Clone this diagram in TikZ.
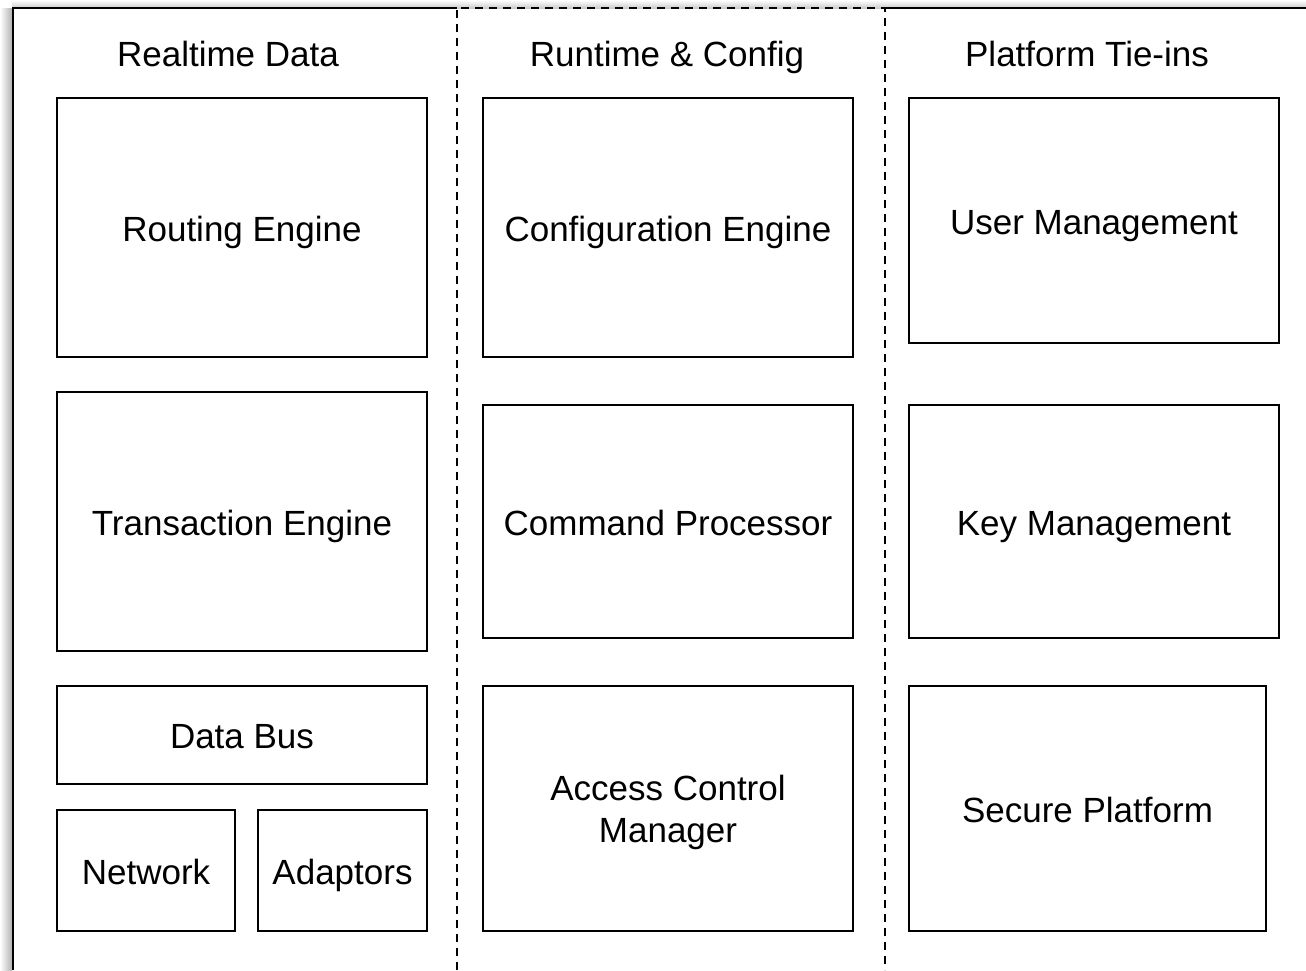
\documentclass[tikz,border=0pt]{standalone}
\usepackage{fontspec}
\setmainfont{Liberation Sans}
\tikzset{
  box/.style={draw, line width=1pt, minimum width=185pt, align=center, inner sep=0pt},
  oneline/.style={text height=17.5pt, text depth=3.7pt},
  header/.style={inner sep=0pt, oneline},
  divider/.style={line width=1pt, dash pattern=on 4pt off 3pt}
}
\begin{document}
\begin{tikzpicture}[x=0.5pt, y=-0.5pt, font=\fontsize{17.5}{21}\selectfont]
\useasboundingbox (0,0) rectangle (1306,970);
% frame with shadow
\shade[left color=white, right color=gray!60] (0,8) rectangle (12,970);
\shade[top color=white, bottom color=gray!40] (12,0) rectangle (1306,8);
\draw[line width=1pt] (12.5,970) -- (12.5,8) -- (457,8);
\draw[line width=1pt] (885,8) -- (1306,8);
% middle column
\draw[divider] (457,970) -- (457,8) -- (885,8) -- (885,970);
% column titles
\node[header] (hdata) at (228,53) {Realtime Data};
\node[header] (hrun) at (667,53) {Runtime \& Config};
\node[header] (hplat) at (1087,53) {Platform Tie-ins};
% realtime data
\node[box, oneline, minimum height=129.5pt] (routing) at (242,227.5) {Routing Engine};
\node[box, oneline, minimum height=129.5pt] (trans) at (242,521.5) {Transaction Engine};
\node[box, oneline, minimum height=49pt] (bus) at (242,735) {Data Bus};
\node[box, oneline, minimum width=89pt, minimum height=60.5pt] (net) at (146,870.5) {Network};
\node[box, oneline, minimum width=84.5pt, minimum height=60.5pt] (adapt) at (342.5,870.5) {Adaptors};
% runtime and config
\node[box, oneline, minimum height=129.5pt] (config) at (668,227.5) {Configuration Engine};
\node[box, oneline, minimum height=116.5pt] (cmd) at (668,521.5) {Command Processor};
\node[box, text depth=-1.3pt, minimum height=122.5pt] (acm) at (668,808.5) {Access Control\\Manager};
% platform tie-ins
\node[box, oneline, minimum height=122.5pt] (user) at (1094,220.5) {User Management};
\node[box, oneline, minimum height=116.5pt] (key) at (1094,521.5) {Key Management};
\node[box, oneline, minimum width=178.5pt, minimum height=122.5pt] (secure) at (1087.5,808.5) {Secure Platform};
\end{tikzpicture}
\end{document}
